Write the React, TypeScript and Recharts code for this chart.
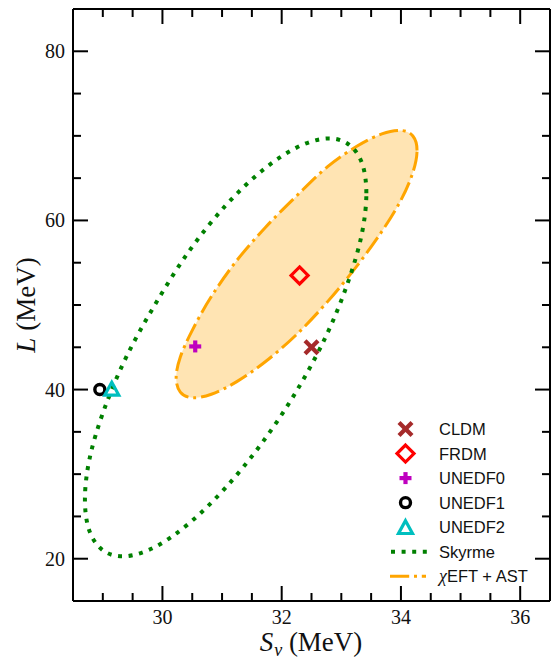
import React from 'react';
import { ScatterChart, Scatter, XAxis, YAxis } from 'recharts';

// ---------- data ----------
const xTicks = [29, 29.5, 30, 30.5, 31, 31.5, 32, 32.5, 33, 33.5, 34, 34.5, 35, 35.5, 36];
const xMajorTicks = [30, 32, 34, 36];
const yTicks = [20, 25, 30, 35, 40, 45, 50, 55, 60, 65, 70, 75, 80];
const yMajorTicks = [20, 40, 60, 80];

// Skyrme contour (dotted green), traced around the curve
const skyrmeS = [33.42, 33.34, 33.10, 32.73, 32.24, 31.67, 31.06, 30.45, 29.88, 29.39, 29.02, 28.78, 28.70, 28.78, 29.02, 29.39, 29.88, 30.45, 31.06, 31.67, 32.24, 32.73, 33.10, 33.34];
const skyrmeL = [63.20, 66.90, 69.10, 69.68, 68.58, 65.88, 61.76, 56.40, 50.10, 43.80, 37.60, 31.90, 27.00, 23.20, 20.90, 20.30, 21.40, 24.20, 28.40, 33.69, 39.72, 46.12, 52.45, 58.27];

// chiEFT + AST contour (dash-dot orange, filled)
const eftS = [34.27, 34.20, 34.00, 33.68, 33.26, 32.77, 32.25, 31.73, 31.24, 30.82, 30.50, 30.30, 30.23, 30.30, 30.50, 30.82, 31.24, 31.73, 32.25, 32.77, 33.26, 33.68, 34.00, 34.20];
const eftL = [68.28, 69.98, 70.64, 70.23, 68.77, 66.36, 62.90, 59.20, 55.20, 51.00, 47.00, 43.85, 41.40, 39.70, 39.04, 39.45, 40.91, 43.32, 46.51, 50.40, 54.60, 58.70, 62.40, 65.67];

const cldmS = [32.5];
const cldmL = [45.0];
const frdmS = [32.3];
const frdmL = [53.5];
const unedf0S = [30.55];
const unedf0L = [45.1];
const unedf1S = [28.95];
const unedf1L = [40.0];
const unedf2S = [29.15];
const unedf2L = [40.1];

const legendLabels = ['CLDM', 'FRDM', 'UNEDF0', 'UNEDF1', 'UNEDF2', 'Skyrme', 'EFT + AST'];

const zip = (xs: number[], ys: number[]) => xs.map((x, i) => ({ x, y: ys[i] }));

const skyrmeData = zip(skyrmeS, skyrmeL);
const eftData = zip(eftS, eftL);
const cldmData = zip(cldmS, cldmL);
const frdmData = zip(frdmS, frdmL);
const unedf0Data = zip(unedf0S, unedf0L);
const unedf1Data = zip(unedf1S, unedf1L);
const unedf2Data = zip(unedf2S, unedf2L);

// ---------- styles ----------
const W = 551;
const H = 659;
const MARGIN = { top: 8, right: 0, bottom: 0, left: 0 };
const SERIF = '"Liberation Serif", "DejaVu Serif", serif';
const SANS = '"Liberation Sans", Arial, sans-serif';

const C_BROWN = '#a52a2a';
const C_RED = '#ff0000';
const C_MAGENTA = '#bf00bf';
const C_BLACK = '#000000';
const C_CYAN = '#00bfbf';
const C_GREEN = '#008000';
const C_ORANGE = '#ffa500';
const C_FILL = '#ffe4b3';

const DOT_DASH = '4 6.6';
const DASHDOT = '19.2 4.8 3 4.8';

// ---------- marker shapes ----------
const CrossMark = ({ cx, cy }: any) => (
  <g>
    <line x1={cx - 6.5} y1={cy - 6.5} x2={cx + 6.5} y2={cy + 6.5} stroke={C_BROWN} strokeWidth={4.2} />
    <line x1={cx - 6.5} y1={cy + 6.5} x2={cx + 6.5} y2={cy - 6.5} stroke={C_BROWN} strokeWidth={4.2} />
  </g>
);
const DiamondMark = ({ cx, cy }: any) => (
  <path
    d={`M${cx},${cy - 8.5}L${cx + 8.5},${cy}L${cx},${cy + 8.5}L${cx - 8.5},${cy}Z`}
    fill="none"
    stroke={C_RED}
    strokeWidth={3.2}
    strokeLinejoin="miter"
  />
);
const PlusMark = ({ cx, cy }: any) => (
  <g>
    <line x1={cx - 6} y1={cy} x2={cx + 6} y2={cy} stroke={C_MAGENTA} strokeWidth={4.2} />
    <line x1={cx} y1={cy - 6} x2={cx} y2={cy + 6} stroke={C_MAGENTA} strokeWidth={4.2} />
  </g>
);
const CircleMark = ({ cx, cy }: any) => (
  <circle cx={cx} cy={cy} r={5} fill="none" stroke={C_BLACK} strokeWidth={3.4} />
);
const TriangleMark = ({ cx, cy }: any) => (
  <path
    d={`M${cx},${cy - 6.5}L${cx + 7},${cy + 6.3}L${cx - 7},${cy + 6.3}Z`}
    fill="none"
    stroke={C_CYAN}
    strokeWidth={3.2}
    strokeLinejoin="miter"
  />
);
const NoMark = () => <g />;

// closed Catmull-Rom path through the projected contour points
function closedSmoothPath(pts: { x: number; y: number }[]) {
  const n = pts.length;
  if (n < 3) return '';
  let d = `M${pts[0].x},${pts[0].y}`;
  for (let i = 0; i < n; i++) {
    const p0 = pts[(i - 1 + n) % n];
    const p1 = pts[i];
    const p2 = pts[(i + 1) % n];
    const p3 = pts[(i + 2) % n];
    const c1x = p1.x + (p2.x - p0.x) / 6;
    const c1y = p1.y + (p2.y - p0.y) / 6;
    const c2x = p2.x - (p3.x - p1.x) / 6;
    const c2y = p2.y - (p3.y - p1.y) / 6;
    d += `C${c1x},${c1y} ${c2x},${c2y} ${p2.x},${p2.y}`;
  }
  return d + 'Z';
}

const contourLine = (fill: string, stroke: string, width: number, dash: string) => (props: any) => {
  const pts = (props.points || []).filter(
    (p: any) => p && Number.isFinite(p.x) && Number.isFinite(p.y)
  );
  return (
    <path
      d={closedSmoothPath(pts)}
      fill={fill}
      stroke={stroke}
      strokeWidth={width}
      strokeDasharray={dash}
      strokeLinecap="butt"
    />
  );
};

// ---------- ticks (inward, on all sides) ----------
const MAJ = 15;
const MIN = 8;
const TICK_W = 2;

const BottomTick = (props: any) => {
  const { x, y, payload } = props;
  const major = xMajorTicks.includes(payload.value);
  return (
    <g>
      <line x1={x} x2={x} y1={y} y2={y - (major ? MAJ : MIN)} stroke="#000" strokeWidth={TICK_W} />
      {major && (
        <text x={x} y={y + 23} textAnchor="middle" fontFamily={SERIF} fontSize={20} fill="#111">
          {payload.value}
        </text>
      )}
    </g>
  );
};
const TopTick = (props: any) => {
  const { x, y, payload } = props;
  const major = xMajorTicks.includes(payload.value);
  return <line x1={x} x2={x} y1={y} y2={y + (major ? MAJ : MIN)} stroke="#000" strokeWidth={TICK_W} />;
};
const LeftTick = (props: any) => {
  const { x, y, payload } = props;
  const major = yMajorTicks.includes(payload.value);
  return (
    <g>
      <line x1={x} x2={x + (major ? MAJ : MIN)} y1={y} y2={y} stroke="#000" strokeWidth={TICK_W} />
      {major && (
        <text x={x - 8} y={y + 7} textAnchor="end" fontFamily={SERIF} fontSize={20} fill="#111">
          {payload.value}
        </text>
      )}
    </g>
  );
};
const RightTick = (props: any) => {
  const { x, y, payload } = props;
  const major = yMajorTicks.includes(payload.value);
  return <line x1={x} x2={x - (major ? MAJ : MIN)} y1={y} y2={y} stroke="#000" strokeWidth={TICK_W} />;
};

const axisLine = { stroke: '#000', strokeWidth: 2 };

// ---------- legend + titles overlay ----------
const LEG_MX = 405.5;
const LEG_TX = 439;
const LEG_Y0 = 429;
const LEG_DY = 24.55;

const Overlay = () => {
  const rows = legendLabels.map((_, i) => LEG_Y0 + i * LEG_DY);
  return (
    <svg
      width={W}
      height={H}
      style={{ position: 'absolute', left: 0, top: 0, pointerEvents: 'none' }}
    >
      {/* axis titles */}
      <text x={311} y={651} textAnchor="middle" fontFamily={SERIF} fontSize={27} fill="#111">
        <tspan fontStyle="italic">S</tspan>
        <tspan fontStyle="italic" fontSize={18} dy={5} dx={1}>v</tspan>
        <tspan dy={-5}>{' (MeV)'}</tspan>
      </text>
      <text
        transform="translate(35,305) rotate(-90)"
        textAnchor="middle"
        fontFamily={SERIF}
        fontSize={27}
        fill="#111"
      >
        <tspan fontStyle="italic">L</tspan>
        <tspan>{' (MeV)'}</tspan>
      </text>

      {/* legend */}
      <CrossMark cx={LEG_MX} cy={rows[0]} />
      <DiamondMark cx={LEG_MX} cy={rows[1]} />
      <PlusMark cx={LEG_MX} cy={rows[2]} />
      <CircleMark cx={LEG_MX} cy={rows[3]} />
      <TriangleMark cx={LEG_MX} cy={rows[4]} />
      <line x1={391} x2={427} y1={rows[5]} y2={rows[5]} stroke={C_GREEN} strokeWidth={4} strokeDasharray={DOT_DASH} />
      <line x1={390} x2={426} y1={rows[6]} y2={rows[6]} stroke={C_ORANGE} strokeWidth={3} strokeDasharray={DASHDOT} />
      {legendLabels.map((lab, i) => (
        <text
          key={lab}
          x={LEG_TX}
          y={rows[i] + 6}
          fontFamily={SANS}
          fontSize={16.5}
          fill="#111"
        >
          {i === 6 ? (
            <>
              <tspan fontFamily={SERIF} fontStyle="italic" fontSize={18}>χ</tspan>
              <tspan>{lab}</tspan>
            </>
          ) : (
            lab
          )}
        </text>
      ))}
    </svg>
  );
};

export default function App() {
  return (
    <div style={{ position: 'absolute', left: 0, top: 0, width: W, height: H, background: '#fff' }}>
      <ScatterChart width={W} height={H} margin={MARGIN}>
        <XAxis
          xAxisId="b"
          type="number"
          dataKey="x"
          domain={[28.5, 36.5]}
          ticks={xTicks}
          interval={0}
          allowDataOverflow
          height={58}
          tickSize={0}
          tickMargin={0}
          axisLine={axisLine}
          tickLine={false}
          tick={<BottomTick />}
          orientation="bottom"
        />
        <XAxis
          xAxisId="t"
          type="number"
          dataKey="x"
          domain={[28.5, 36.5]}
          ticks={xTicks}
          interval={0}
          allowDataOverflow
          height={1}
          tickSize={0}
          tickMargin={0}
          axisLine={axisLine}
          tickLine={false}
          tick={<TopTick />}
          orientation="top"
        />
        <YAxis
          yAxisId="l"
          type="number"
          dataKey="y"
          domain={[15, 85]}
          ticks={yTicks}
          interval={0}
          allowDataOverflow
          width={73}
          tickSize={0}
          tickMargin={0}
          axisLine={axisLine}
          tickLine={false}
          tick={<LeftTick />}
          orientation="left"
        />
        <YAxis
          yAxisId="r"
          type="number"
          dataKey="y"
          domain={[15, 85]}
          ticks={yTicks}
          interval={0}
          allowDataOverflow
          width={1}
          tickSize={0}
          tickMargin={0}
          axisLine={axisLine}
          tickLine={false}
          tick={<RightTick />}
          orientation="right"
        />

        <Scatter
          name="EFT + AST"
          data={eftData}
          xAxisId="b"
          yAxisId="l"
          shape={NoMark}
          line={contourLine(C_FILL, C_ORANGE, 3, DASHDOT)}
          lineType="joint"
          isAnimationActive={false}
          legendType="none"
        />
        <Scatter
          name="Skyrme"
          data={skyrmeData}
          xAxisId="b"
          yAxisId="l"
          shape={NoMark}
          line={contourLine('none', C_GREEN, 4, DOT_DASH)}
          lineType="joint"
          isAnimationActive={false}
          legendType="none"
        />
        <Scatter name="CLDM" data={cldmData} xAxisId="b" yAxisId="l" shape={CrossMark} isAnimationActive={false} />
        <Scatter name="FRDM" data={frdmData} xAxisId="b" yAxisId="l" shape={DiamondMark} isAnimationActive={false} />
        <Scatter name="UNEDF0" data={unedf0Data} xAxisId="b" yAxisId="l" shape={PlusMark} isAnimationActive={false} />
        <Scatter name="UNEDF1" data={unedf1Data} xAxisId="b" yAxisId="l" shape={CircleMark} isAnimationActive={false} />
        <Scatter name="UNEDF2" data={unedf2Data} xAxisId="b" yAxisId="l" shape={TriangleMark} isAnimationActive={false} />
      </ScatterChart>
      <Overlay />
    </div>
  );
}
